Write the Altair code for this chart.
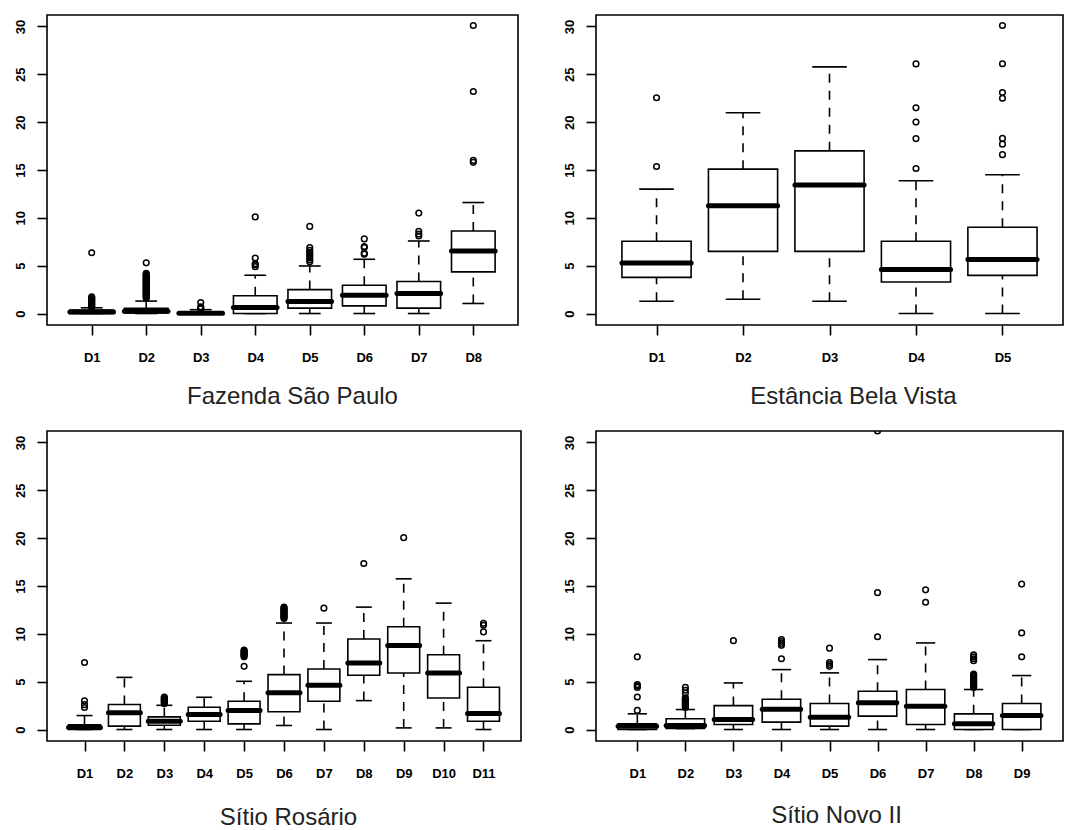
import altair as alt
import pandas as pd

# ---------------- data ----------------
Y_TICKS = [0, 5, 10, 15, 20, 25, 30]

# Panel 1: Fazenda São Paulo
FSP_LABELS = ["D1", "D2", "D3", "D4", "D5", "D6", "D7", "D8"]
FSP_LO = [0.0, 0.0, 0.0, 0.0, 0.0, 0.0, 0.0, 1.05]
FSP_Q1 = [0.0, 0.05, 0.0, 0.0, 0.56, 0.8, 0.56, 4.35]
FSP_MED = [0.15, 0.25, 0.02, 0.63, 1.25, 1.92, 2.09, 6.54]
FSP_Q3 = [0.35, 0.55, 0.15, 1.85, 2.5, 2.96, 3.34, 8.62]
FSP_HI = [0.6, 1.3, 0.4, 4.0, 4.97, 5.67, 7.58, 11.6]
FSP_OUT = [
    [0.65, 0.75, 0.85, 0.95, 1.05, 1.15, 1.25, 1.35, 1.45, 1.55, 1.65, 1.75, 6.35],
    [1.6, 1.7, 1.8, 1.9, 2.0, 2.1, 2.2, 2.3, 2.4, 2.5, 2.6, 2.7, 2.8, 2.9,
     3.0, 3.1, 3.2, 3.3, 3.4, 3.5, 3.6, 3.7, 3.8, 3.9, 4.0, 4.1, 4.2, 5.3],
    [0.5, 0.6, 0.7, 1.15],
    [4.9, 5.1, 5.2, 5.8, 10.1],
    [5.4, 5.6, 5.8, 6.0, 6.2, 6.4, 6.6, 6.9, 9.1],
    [6.2, 6.3, 6.9, 7.0, 7.8],
    [8.1, 8.3, 8.6, 10.5],
    [15.8, 16.0, 23.2, 30.1],
]

# Panel 2: Estância Bela Vista
EBV_LABELS = ["D1", "D2", "D3", "D4", "D5"]
EBV_LO = [1.28, 1.49, 1.28, 0.0, 0.0]
EBV_Q1 = [3.78, 6.49, 6.49, 3.29, 3.99]
EBV_MED = [5.27, 11.27, 13.42, 4.61, 5.65]
EBV_Q3 = [7.56, 15.09, 17.0, 7.56, 9.02]
EBV_HI = [13.0, 20.99, 25.78, 13.87, 14.5]
EBV_OUT = [
    [15.37, 22.55],
    [],
    [],
    [15.16, 18.28, 20.01, 21.5, 26.09],
    [16.6, 17.7, 18.3, 22.5, 23.1, 26.1, 30.1],
]

# Panel 3: Sítio Rosário
SR_LABELS = ["D1", "D2", "D3", "D4", "D5", "D6", "D7", "D8", "D9", "D10", "D11"]
SR_LO = [0.0, 0.0, 0.0, 0.0, 0.0, 0.42, 0.0, 3.02, 0.17, 0.17, 0.0]
SR_Q1 = [0.0, 0.35, 0.45, 0.87, 0.59, 1.85, 2.95, 5.67, 5.91, 3.3, 0.87]
SR_MED = [0.2, 1.74, 0.87, 1.56, 1.98, 3.83, 4.62, 6.95, 8.79, 5.91, 1.67]
SR_Q3 = [0.5, 2.61, 1.32, 2.33, 2.95, 5.74, 6.33, 9.46, 10.74, 7.82, 4.41]
SR_HI = [1.46, 5.45, 2.53, 3.37, 5.04, 11.13, 11.13, 12.79, 15.75, 13.21, 9.28]
SR_OUT = [
    [2.3, 2.6, 3.0, 7.0],
    [],
    [2.7, 2.8, 2.9, 3.0, 3.1, 3.2, 3.3, 3.4],
    [],
    [6.6, 7.6, 7.7, 7.8, 7.9, 8.0, 8.1, 8.2, 8.3],
    [11.6, 11.7, 11.8, 11.9, 12.0, 12.1, 12.2, 12.3, 12.4, 12.5, 12.6, 12.7, 12.8],
    [12.68],
    [17.35],
    [20.05],
    [],
    [10.2, 10.9, 11.1],
]

# Panel 4: Sítio Novo II
SN_LABELS = ["D1", "D2", "D3", "D4", "D5", "D6", "D7", "D8", "D9"]
SN_LO = [0.0, 0.1, 0.0, 0.0, 0.0, 0.0, 0.0, 0.0, 0.0]
SN_Q1 = [0.0, 0.1, 0.52, 0.77, 0.35, 1.4, 0.52, 0.0, 0.0]
SN_MED = [0.35, 0.42, 1.04, 2.12, 1.29, 2.79, 2.44, 0.6, 1.46]
SN_Q3 = [0.6, 1.12, 2.5, 3.17, 2.72, 4.0, 4.18, 1.64, 2.72]
SN_HI = [1.64, 2.09, 4.87, 6.26, 5.92, 7.31, 9.05, 4.18, 5.64]
SN_OUT = [
    [2.0, 3.4, 4.4, 4.55, 4.7, 7.6],
    [2.3, 2.4, 2.5, 2.6, 2.7, 2.8, 2.9, 3.0, 3.1, 3.2, 3.3, 3.8, 4.1, 4.4],
    [9.29],
    [7.4, 8.8, 9.0, 9.2, 9.4],
    [6.6, 6.8, 7.0, 8.5],
    [9.7, 14.3, 31.2],
    [13.3, 14.6],
    [4.4, 4.5, 4.6, 4.7, 4.8, 4.9, 5.0, 5.1, 5.2, 5.3, 5.4, 5.5, 5.6, 5.7, 5.8,
     7.2, 7.4, 7.6, 7.8],
    [7.6, 10.1, 15.2],
]


def panel(labels, lo, q1, med, q3, hi, outs, title, title_x, title_pad, w, h):
    n = len(labels)
    pos = list(range(1, n + 1))
    stats = pd.DataFrame({"pos": pos, "label": labels, "lo": lo, "q1": q1,
                          "med": med, "q3": q3, "hi": hi})
    rows = [{"pos": i + 1, "value": v} for i, vs in enumerate(outs) for v in vs]
    out_df = pd.DataFrame(rows)

    xscale = alt.Scale(domain=[0.5 - 0.04 * n, n + 0.5 + 0.04 * n], nice=False, zero=False)
    yscale = alt.Scale(domain=[-1.2, 31.2], nice=False, zero=False)
    xaxis = alt.Axis(values=pos, labelExpr="'D' + datum.value", title=title,
                     titleX=title_x, titleAlign="center", titlePadding=title_pad,
                     labelPadding=16, minExtent=38, maxExtent=38, labelFlush=False,
                     labelOverlap=False)
    yaxis = alt.Axis(values=Y_TICKS, labelAngle=-90, labelAlign="center",
                     labelBaseline="bottom", labelPadding=10, title=None,
                     labelOverlap=False, labelFlush=False)

    X = lambda f: alt.X(f, type="quantitative", scale=xscale, axis=xaxis)
    Y = lambda f: alt.Y(f, type="quantitative", scale=yscale, axis=yaxis)

    base = alt.Chart(stats).transform_calculate(
        left="datum.pos - 0.4", right="datum.pos + 0.4",
        sl="datum.pos - 0.2", sr="datum.pos + 0.2")

    dash = [9, 8]
    w_lo = base.mark_rule(color="black", strokeWidth=1.6, strokeDash=dash).encode(
        x=X("pos"), y=Y("lo"), y2="q1:Q")
    w_hi = base.mark_rule(color="black", strokeWidth=1.6, strokeDash=dash).encode(
        x=X("pos"), y=Y("q3"), y2="hi:Q")
    s_lo = base.mark_rule(color="black", strokeWidth=1.6).encode(
        x=X("sl"), x2="sr:Q", y=Y("lo"))
    s_hi = base.mark_rule(color="black", strokeWidth=1.6).encode(
        x=X("sl"), x2="sr:Q", y=Y("hi"))
    box = base.mark_rect(fill="white", stroke="black", strokeWidth=1.6).encode(
        x=X("left"), x2="right:Q", y=Y("q1"), y2="q3:Q")
    medl = base.mark_rule(color="black", strokeWidth=5, strokeCap="round").encode(
        x=X("left"), x2="right:Q", y=Y("med"))
    pts = alt.Chart(out_df).mark_point(shape="circle", filled=False, color="black",
                                       size=32, strokeWidth=1.5, opacity=1, clip=True).encode(
        x=X("pos"), y=Y("value"))
    return alt.layer(w_lo, w_hi, s_lo, s_hi, box, medl, pts).properties(width=w, height=h)


p1 = panel(FSP_LABELS, FSP_LO, FSP_Q1, FSP_MED, FSP_Q3, FSP_HI, FSP_OUT,
           "Fazenda São Paulo", 245, 21, 471, 310)
p2 = panel(EBV_LABELS, EBV_LO, EBV_Q1, EBV_MED, EBV_Q3, EBV_HI, EBV_OUT,
           "Estância Bela Vista", 257, 21, 467, 310)
p3 = panel(SR_LABELS, SR_LO, SR_Q1, SR_MED, SR_Q3, SR_HI, SR_OUT,
           "Sítio Rosário", 241, 26, 474, 310)
p4 = panel(SN_LABELS, SN_LO, SN_Q1, SN_MED, SN_Q3, SN_HI, SN_OUT,
           "Sítio Novo II", 240, 24, 467, 310)

chart = alt.vconcat(
    alt.hconcat(p1, p2, spacing=43),
    alt.hconcat(p3, p4, spacing=40),
    spacing=21,
).properties(
    padding={"left": 13, "top": 14, "right": 0, "bottom": 0},
    background="white",
).configure_view(
    stroke="black", strokeWidth=1.6
).configure_axis(
    grid=False, domain=False, tickColor="black", tickWidth=1.6, tickSize=10,
    labelColor="black", labelFont="Liberation Sans", labelFontWeight="bold",
    labelFontSize=13, titleFont="Liberation Sans", titleFontSize=24,
    titleFontWeight="normal", titleColor="#222222",
)

chart.save("out.html", embed_options={"renderer": "svg", "actions": False})
